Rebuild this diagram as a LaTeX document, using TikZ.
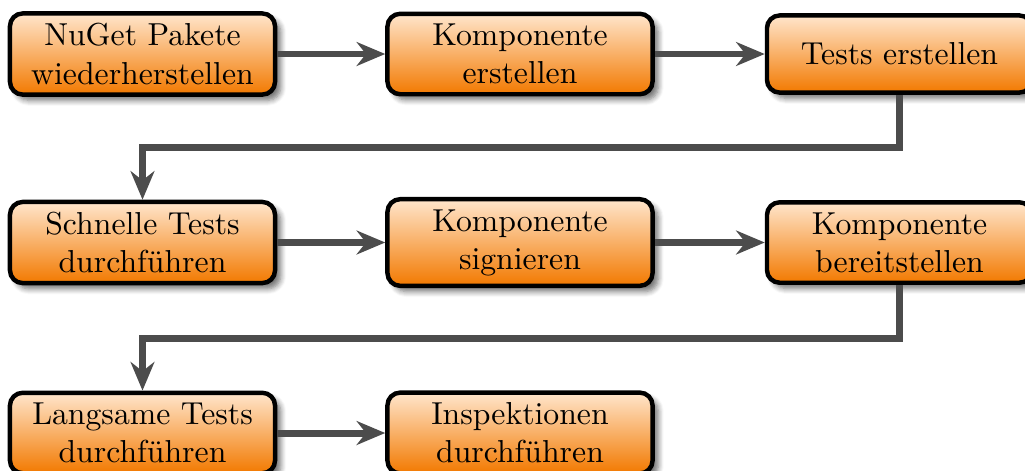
\documentclass[tikz,border=0pt]{standalone}
\usetikzlibrary{arrows.meta,shadows.blur}
\tikzset{
  stepbox/.style={
    draw=black, line width=1.4pt, rounded corners=4pt,
    top color=orange!20, bottom color=orange!95!black,
    minimum width=83.5pt, minimum height=24.3pt,
    text width=77pt, align=center, inner xsep=2.5pt, inner ysep=3.2pt,
    blur shadow={shadow xshift=1.8pt, shadow yshift=-1.8pt, shadow blur steps=6, shadow opacity=55}
  },
  conn/.style={
    draw=black!70, line width=2.2pt,
    -{Stealth[length=9pt,width=7.5pt]}
  }
}
\begin{document}
\begin{tikzpicture}[x=0.315pt, y=-0.315pt]
  \useasboundingbox (0,0) rectangle (1025,470);

  % row 1
  \node[stepbox] (b1) at (142.5,54) {NuGet Pakete\\wiederherstellen};
  \node[stepbox] (b2) at (520,54)   {Komponente\\erstellen};
  \node[stepbox] (b3) at (899.5,54) {Tests erstellen};
  % row 2
  \node[stepbox] (b4) at (142.5,242.5) {Schnelle Tests\\durchführen};
  \node[stepbox] (b5) at (520,242.5)   {Komponente\\signieren};
  \node[stepbox] (b6) at (899.5,242.5) {Komponente\\bereitstellen};
  % row 3
  \node[stepbox] (b7) at (142.5,433) {Langsame Tests\\durchführen};
  \node[stepbox] (b8) at (520,433)   {Inspektionen\\durchführen};

  % turning points between rows
  \coordinate (m1) at (0,147);
  \coordinate (m2) at (0,338);

  \draw[conn] (b1.east) -- (b2.west);
  \draw[conn] (b2.east) -- (b3.west);
  \draw[conn] (b3.south) -- (b3.south |- m1) -| (b4.north);
  \draw[conn] (b4.east) -- (b5.west);
  \draw[conn] (b5.east) -- (b6.west);
  \draw[conn] (b6.south) -- (b6.south |- m2) -| (b7.north);
  \draw[conn] (b7.east) -- (b8.west);
\end{tikzpicture}
\end{document}
